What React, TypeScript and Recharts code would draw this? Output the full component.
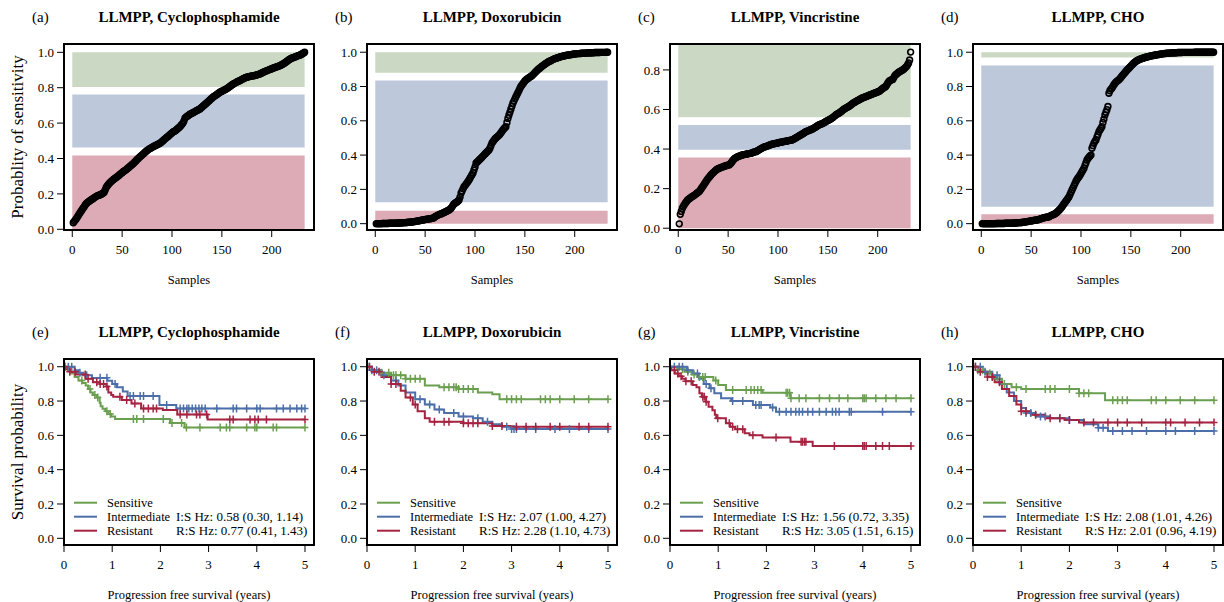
import React from 'react';
import { ComposedChart, Scatter, Line, XAxis, YAxis, ReferenceArea } from 'recharts';

const FONT = '"Liberation Serif", "Times New Roman", Times, serif';
const GREEN = '#6a9f50';
const BLUE = '#4c6fa9';
const RED = '#a52341';
const GREEN_BAND = '#cbd8c4';
const BLUE_BAND = '#bdc8db';
const RED_BAND = '#dcabb6';

// ---------- sorted probability of sensitivity, one value per sample ----------
const cycloProb = [
  0.037, 0.045, 0.052, 0.060, 0.068, 0.077, 0.086, 0.095, 0.104, 0.112,
  0.120, 0.128, 0.137, 0.145, 0.150, 0.155, 0.159, 0.163, 0.167, 0.170,
  0.174, 0.178, 0.182, 0.186, 0.189, 0.191, 0.193, 0.195, 0.198, 0.201,
  0.205, 0.210, 0.222, 0.236, 0.245, 0.252, 0.259, 0.265, 0.270, 0.275,
  0.280, 0.284, 0.288, 0.293, 0.297, 0.301, 0.306, 0.311, 0.316, 0.320,
  0.325, 0.329, 0.333, 0.337, 0.342, 0.347, 0.351, 0.356, 0.361, 0.366,
  0.370, 0.376, 0.382, 0.388, 0.394, 0.399, 0.405, 0.410, 0.415, 0.420,
  0.425, 0.430, 0.435, 0.440, 0.445, 0.449, 0.453, 0.457, 0.460, 0.463,
  0.466, 0.469, 0.472, 0.475, 0.478, 0.481, 0.484, 0.486, 0.491, 0.496,
  0.501, 0.506, 0.511, 0.516, 0.520, 0.525, 0.530, 0.535, 0.540, 0.545,
  0.550, 0.553, 0.556, 0.560, 0.565, 0.570, 0.575, 0.580, 0.587, 0.594,
  0.600, 0.612, 0.628, 0.634, 0.638, 0.642, 0.646, 0.650, 0.653, 0.656,
  0.659, 0.662, 0.665, 0.668, 0.671, 0.674, 0.677, 0.680, 0.685, 0.690,
  0.695, 0.700, 0.705, 0.710, 0.715, 0.720, 0.725, 0.730, 0.736, 0.741,
  0.746, 0.750, 0.754, 0.758, 0.762, 0.766, 0.770, 0.774, 0.777, 0.780,
  0.783, 0.786, 0.789, 0.792, 0.795, 0.799, 0.803, 0.807, 0.811, 0.815,
  0.820, 0.823, 0.826, 0.829, 0.832, 0.835, 0.838, 0.840, 0.843, 0.846,
  0.849, 0.852, 0.855, 0.858, 0.859, 0.861, 0.862, 0.864, 0.865, 0.866,
  0.867, 0.868, 0.869, 0.871, 0.872, 0.874, 0.876, 0.877, 0.880, 0.883,
  0.886, 0.889, 0.891, 0.894, 0.896, 0.898, 0.901, 0.903, 0.905, 0.907,
  0.910, 0.912, 0.914, 0.916, 0.918, 0.920, 0.922, 0.924, 0.927, 0.930,
  0.933, 0.937, 0.940, 0.944, 0.948, 0.952, 0.957, 0.961, 0.964, 0.967,
  0.969, 0.971, 0.973, 0.975, 0.978, 0.980, 0.982, 0.984, 0.986, 0.989,
  0.993, 0.996, 1.000,
];

const doxoProb = [
  0.000, 0.000, 0.000, 0.000, 0.000, 0.000, 0.001, 0.001, 0.001, 0.001,
  0.001, 0.001, 0.001, 0.002, 0.002, 0.002, 0.002, 0.002, 0.003, 0.003,
  0.003, 0.003, 0.004, 0.004, 0.004, 0.005, 0.005, 0.005, 0.006, 0.006,
  0.007, 0.007, 0.008, 0.008, 0.009, 0.010, 0.010, 0.011, 0.012, 0.013,
  0.014, 0.015, 0.016, 0.017, 0.018, 0.019, 0.021, 0.022, 0.023, 0.024,
  0.025, 0.026, 0.027, 0.028, 0.029, 0.030, 0.031, 0.032, 0.036, 0.040,
  0.044, 0.047, 0.050, 0.053, 0.055, 0.057, 0.060, 0.062, 0.065, 0.068,
  0.071, 0.074, 0.077, 0.080, 0.084, 0.090, 0.098, 0.107, 0.115, 0.119,
  0.123, 0.127, 0.132, 0.138, 0.155, 0.177, 0.190, 0.203, 0.215, 0.222,
  0.230, 0.238, 0.246, 0.255, 0.265, 0.276, 0.286, 0.296, 0.313, 0.330,
  0.352, 0.358, 0.364, 0.370, 0.376, 0.382, 0.388, 0.394, 0.400, 0.406,
  0.412, 0.418, 0.424, 0.430, 0.440, 0.455, 0.470, 0.478, 0.486, 0.494,
  0.500, 0.505, 0.510, 0.515, 0.522, 0.530, 0.538, 0.546, 0.554, 0.560,
  0.566, 0.590, 0.614, 0.632, 0.650, 0.668, 0.685, 0.702, 0.715, 0.728,
  0.741, 0.752, 0.764, 0.776, 0.788, 0.800, 0.808, 0.816, 0.824, 0.832,
  0.839, 0.843, 0.847, 0.851, 0.855, 0.859, 0.863, 0.868, 0.874, 0.880,
  0.886, 0.892, 0.898, 0.904, 0.907, 0.912, 0.917, 0.922, 0.926, 0.930,
  0.934, 0.938, 0.942, 0.946, 0.948, 0.951, 0.954, 0.957, 0.960, 0.962,
  0.964, 0.966, 0.968, 0.970, 0.972, 0.974, 0.976, 0.977, 0.978, 0.980,
  0.981, 0.982, 0.983, 0.984, 0.985, 0.986, 0.987, 0.988, 0.989, 0.990,
  0.991, 0.991, 0.992, 0.992, 0.993, 0.993, 0.994, 0.994, 0.995, 0.995,
  0.995, 0.996, 0.996, 0.996, 0.996, 0.997, 0.997, 0.997, 0.997, 0.998,
  0.998, 0.998, 0.998, 0.998, 0.998, 0.999, 0.999, 0.999, 0.999, 0.999,
  0.999, 1.000, 1.000,
];

const vincProb = [
  0.022, 0.070, 0.085, 0.100, 0.110, 0.118, 0.126, 0.133, 0.140, 0.145,
  0.149, 0.153, 0.156, 0.160, 0.163, 0.166, 0.170, 0.174, 0.178, 0.182,
  0.185, 0.192, 0.200, 0.207, 0.214, 0.222, 0.230, 0.237, 0.245, 0.252,
  0.258, 0.264, 0.270, 0.276, 0.280, 0.285, 0.290, 0.294, 0.298, 0.301,
  0.303, 0.305, 0.307, 0.309, 0.311, 0.313, 0.315, 0.316, 0.318, 0.319,
  0.320, 0.324, 0.330, 0.337, 0.344, 0.350, 0.354, 0.357, 0.360, 0.362,
  0.364, 0.366, 0.368, 0.370, 0.371, 0.372, 0.373, 0.374, 0.375, 0.376,
  0.377, 0.378, 0.379, 0.381, 0.383, 0.385, 0.386, 0.387, 0.390, 0.393,
  0.396, 0.399, 0.402, 0.405, 0.408, 0.410, 0.412, 0.413, 0.415, 0.417,
  0.419, 0.421, 0.423, 0.425, 0.426, 0.427, 0.428, 0.429, 0.430, 0.431,
  0.433, 0.434, 0.435, 0.436, 0.437, 0.438, 0.439, 0.440, 0.441, 0.442,
  0.443, 0.444, 0.445, 0.446, 0.448, 0.451, 0.454, 0.457, 0.460, 0.463,
  0.466, 0.469, 0.472, 0.475, 0.478, 0.481, 0.485, 0.488, 0.490, 0.492,
  0.494, 0.496, 0.498, 0.500, 0.503, 0.506, 0.509, 0.512, 0.515, 0.519,
  0.522, 0.524, 0.526, 0.528, 0.530, 0.533, 0.536, 0.539, 0.542, 0.545,
  0.547, 0.550, 0.553, 0.556, 0.560, 0.564, 0.568, 0.572, 0.576, 0.579,
  0.581, 0.585, 0.589, 0.593, 0.597, 0.601, 0.604, 0.607, 0.610, 0.613,
  0.615, 0.619, 0.623, 0.627, 0.631, 0.634, 0.637, 0.640, 0.643, 0.646,
  0.648, 0.651, 0.654, 0.657, 0.659, 0.661, 0.663, 0.665, 0.667, 0.669,
  0.671, 0.673, 0.675, 0.677, 0.679, 0.681, 0.683, 0.685, 0.687, 0.689,
  0.691, 0.694, 0.698, 0.702, 0.706, 0.710, 0.713, 0.716, 0.724, 0.733,
  0.740, 0.745, 0.748, 0.750, 0.752, 0.760, 0.770, 0.776, 0.780, 0.784,
  0.788, 0.791, 0.794, 0.797, 0.800, 0.804, 0.808, 0.813, 0.818, 0.826,
  0.835, 0.850, 0.890,
];

const choProb = [
  0.000, 0.000, 0.000, 0.000, 0.000, 0.000, 0.000, 0.000, 0.000, 0.000,
  0.000, 0.000, 0.000, 0.000, 0.001, 0.001, 0.001, 0.001, 0.001, 0.001,
  0.001, 0.001, 0.001, 0.002, 0.002, 0.002, 0.002, 0.002, 0.003, 0.003,
  0.003, 0.003, 0.004, 0.004, 0.004, 0.005, 0.005, 0.006, 0.006, 0.007,
  0.007, 0.008, 0.009, 0.010, 0.011, 0.012, 0.013, 0.014, 0.015, 0.016,
  0.017, 0.018, 0.019, 0.020, 0.021, 0.022, 0.023, 0.025, 0.027, 0.029,
  0.031, 0.033, 0.035, 0.036, 0.037, 0.038, 0.039, 0.041, 0.044, 0.048,
  0.050, 0.052, 0.055, 0.058, 0.062, 0.067, 0.072, 0.078, 0.084, 0.091,
  0.099, 0.108, 0.116, 0.124, 0.132, 0.140, 0.149, 0.157, 0.170, 0.183,
  0.196, 0.209, 0.222, 0.235, 0.248, 0.258, 0.266, 0.274, 0.283, 0.293,
  0.303, 0.313, 0.323, 0.340, 0.356, 0.372, 0.380, 0.387, 0.395, 0.400,
  0.440, 0.455, 0.470, 0.480, 0.488, 0.505, 0.520, 0.537, 0.546, 0.556,
  0.566, 0.590, 0.610, 0.634, 0.650, 0.665, 0.683, 0.761, 0.775, 0.785,
  0.790, 0.800, 0.810, 0.818, 0.825, 0.830, 0.835, 0.839, 0.846, 0.853,
  0.860, 0.867, 0.874, 0.880, 0.888, 0.895, 0.901, 0.907, 0.913, 0.919,
  0.925, 0.931, 0.937, 0.942, 0.946, 0.950, 0.953, 0.956, 0.959, 0.961,
  0.963, 0.965, 0.967, 0.969, 0.971, 0.972, 0.974, 0.975, 0.977, 0.978,
  0.979, 0.980, 0.982, 0.983, 0.984, 0.985, 0.986, 0.987, 0.988, 0.989,
  0.990, 0.991, 0.992, 0.993, 0.993, 0.994, 0.994, 0.995, 0.995, 0.996,
  0.996, 0.996, 0.997, 0.997, 0.997, 0.997, 0.998, 0.998, 0.998, 0.998,
  0.998, 0.999, 0.999, 0.999, 0.999, 0.999, 0.999, 0.999, 0.999, 0.999,
  0.999, 0.999, 0.999, 1.000, 1.000, 1.000, 1.000, 1.000, 1.000, 1.000,
  1.000, 1.000, 1.000, 1.000, 1.000, 1.000, 1.000, 1.000, 1.000, 1.000,
  1.000, 1.000, 1.000,
];

// class bands [low, high] for sensitive / intermediate / resistant
const cycloBands = { sensitive: [0.804, 1.0], intermediate: [0.462, 0.761], resistant: [0, 0.417] };
const doxoBands = { sensitive: [0.88, 1.0], intermediate: [0.125, 0.835], resistant: [0, 0.076] };
const vincBands = { sensitive: [0.561, 0.931], intermediate: [0.396, 0.522], resistant: [0, 0.357] };
const choBands = { sensitive: [0.969, 1.0], intermediate: [0.099, 0.922], resistant: [0, 0.055] };

const sampleTicks = [0, 50, 100, 150, 200];
const probTicksFull = [0, 0.2, 0.4, 0.6, 0.8, 1.0];
const probTicksShort = [0, 0.2, 0.4, 0.6, 0.8];
const yearTicks = [0, 1, 2, 3, 4, 5];
const survivalTicks = [0, 0.2, 0.4, 0.6, 0.8, 1.0];

// ---------- Kaplan-Meier steps [time, survival] and censoring times ----------
const cycloSensSteps = [[0, 1], [0.08, 0.98], [0.15, 0.96], [0.22, 0.94], [0.3, 0.92], [0.38, 0.905], [0.45, 0.89], [0.5, 0.87], [0.55, 0.85], [0.6, 0.835], [0.68, 0.82], [0.74, 0.79], [0.76, 0.77], [0.8, 0.755], [0.86, 0.74], [0.92, 0.725], [0.98, 0.71], [1.06, 0.695], [2.2, 0.672], [2.5, 0.646]];
const cycloSensCens = [0.37, 0.54, 0.64, 0.7, 0.89, 0.96, 1.44, 1.51, 1.65, 2.06, 2.24, 2.44, 2.54, 2.82, 3.24, 3.37, 3.44, 3.79, 3.96, 4.0, 4.34, 4.41, 5.0];
const cycloIntSteps = [[0, 1], [0.22, 0.98], [0.3, 0.965], [0.4, 0.95], [0.58, 0.935], [0.9, 0.918], [1.0, 0.9], [1.1, 0.88], [1.22, 0.855], [1.32, 0.83], [1.98, 0.777], [2.33, 0.757]];
const cycloIntCens = [0.09, 0.16, 0.33, 0.47, 0.75, 0.89, 1.06, 1.37, 1.44, 1.58, 1.65, 1.85, 2.13, 2.41, 2.48, 2.55, 2.59, 2.66, 2.73, 2.8, 2.86, 2.93, 3.17, 3.51, 3.58, 3.79, 4.0, 4.07, 4.41, 4.55, 4.69, 4.83, 4.93, 5.0];
const cycloResSteps = [[0, 1], [0.03, 0.985], [0.12, 0.97], [0.25, 0.955], [0.45, 0.93], [0.6, 0.91], [0.75, 0.9], [0.88, 0.885], [0.92, 0.85], [0.98, 0.835], [1.02, 0.825], [1.2, 0.806], [1.4, 0.786], [1.6, 0.757], [2.05, 0.748], [2.35, 0.722], [2.98, 0.693]];
const cycloResCens = [0.02, 0.12, 0.23, 0.44, 0.5, 0.68, 0.75, 0.82, 0.89, 1.16, 1.3, 1.47, 1.65, 1.75, 1.85, 1.92, 2.41, 2.55, 2.75, 2.82, 2.96, 3.44, 3.51, 3.86, 3.96, 4.03, 4.2, 5.0];

const doxoSensSteps = [[0, 1], [0.1, 0.98], [0.3, 0.965], [0.5, 0.95], [0.8, 0.93], [1.2, 0.89], [1.5, 0.88], [1.9, 0.87], [2.3, 0.85], [2.6, 0.84], [2.75, 0.81]];
const doxoSensCens = [0.3, 0.45, 0.55, 0.6, 0.7, 0.8, 0.9, 1.0, 1.1, 1.6, 1.7, 1.8, 1.85, 1.9, 2.0, 2.1, 2.2, 2.9, 3.0, 3.1, 3.2, 3.6, 3.7, 3.8, 4.0, 4.3, 4.6, 5.0];
const doxoIntSteps = [[0, 1], [0.1, 0.98], [0.3, 0.95], [0.5, 0.92], [0.65, 0.89], [0.8, 0.85], [1.0, 0.81], [1.2, 0.78], [1.4, 0.75], [1.6, 0.73], [1.9, 0.71], [2.2, 0.7], [2.4, 0.68], [2.6, 0.665], [2.8, 0.65], [3.0, 0.637]];
const doxoIntCens = [0.05, 0.1, 0.2, 0.35, 0.6, 1.1, 1.3, 1.5, 1.8, 2.0, 2.3, 2.5, 2.9, 3.0, 3.05, 3.1, 3.3, 3.5, 3.9, 4.2, 4.6, 5.0];
const doxoResSteps = [[0, 1], [0.1, 0.97], [0.3, 0.94], [0.5, 0.9], [0.7, 0.86], [0.8, 0.82], [0.95, 0.78], [1.05, 0.74], [1.2, 0.7], [1.3, 0.68], [2.0, 0.67], [2.6, 0.655], [3.0, 0.65]];
const doxoResCens = [0.05, 0.15, 0.25, 0.5, 0.6, 0.9, 1.0, 1.4, 1.6, 1.7, 2.0, 2.1, 2.2, 2.3, 2.6, 2.8, 3.1, 3.3, 3.5, 3.8, 4.0, 4.4, 4.6, 5.0];

const vincSensSteps = [[0, 1], [0.15, 0.985], [0.3, 0.97], [0.45, 0.955], [0.6, 0.94], [0.9, 0.92], [1.0, 0.893], [1.16, 0.864], [1.92, 0.849], [2.5, 0.816]];
const vincSensCens = [0.16, 0.26, 0.37, 0.5, 0.61, 0.68, 0.73, 0.95, 1.3, 1.58, 1.68, 1.75, 1.82, 1.89, 2.41, 2.44, 2.48, 2.51, 2.68, 2.82, 3.1, 3.31, 3.51, 3.69, 4.0, 4.03, 4.07, 4.27, 4.48, 4.69, 5.0];
const vincIntSteps = [[0, 1], [0.35, 0.98], [0.48, 0.96], [0.6, 0.93], [0.7, 0.9], [0.82, 0.874], [0.92, 0.845], [1.06, 0.816], [1.27, 0.8], [1.72, 0.777], [2.08, 0.763], [2.2, 0.738]];
const vincIntCens = [0.09, 0.19, 0.26, 0.37, 0.57, 0.75, 0.85, 1.3, 1.51, 1.78, 1.85, 1.89, 2.13, 2.27, 2.41, 2.51, 2.61, 2.68, 2.75, 2.86, 2.96, 3.1, 3.24, 3.37, 3.44, 3.51, 3.72, 3.76, 4.41, 5.0];
const vincResSteps = [[0, 1], [0.03, 0.98], [0.1, 0.96], [0.18, 0.945], [0.25, 0.93], [0.32, 0.915], [0.47, 0.893], [0.55, 0.88], [0.61, 0.845], [0.66, 0.825], [0.75, 0.796], [0.8, 0.767], [0.88, 0.747], [0.93, 0.72], [0.96, 0.7], [1.16, 0.67], [1.25, 0.65], [1.35, 0.635], [1.55, 0.612], [1.65, 0.6], [1.92, 0.588], [2.5, 0.563], [2.96, 0.538]];
const vincResCens = [0.09, 0.16, 0.23, 0.33, 0.44, 0.68, 0.71, 0.75, 0.99, 1.23, 1.3, 1.4, 1.51, 1.72, 2.2, 2.72, 2.75, 2.79, 2.82, 3.41, 4.0, 4.03, 4.07, 4.27, 4.41, 4.55, 5.0];

const choSensSteps = [[0, 1], [0.1, 0.98], [0.25, 0.96], [0.4, 0.93], [0.6, 0.9], [0.8, 0.88], [1.0, 0.87], [2.2, 0.845], [2.74, 0.805]];
const choSensCens = [0.1, 0.2, 0.35, 0.5, 0.65, 0.9, 1.1, 1.5, 1.6, 1.7, 2.0, 2.2, 2.3, 2.4, 2.9, 3.0, 3.1, 3.2, 3.7, 3.8, 4.0, 4.3, 4.6, 5.0];
const choIntSteps = [[0, 1], [0.2, 0.97], [0.4, 0.95], [0.55, 0.9], [0.7, 0.85], [0.85, 0.8], [1.0, 0.76], [1.1, 0.73], [1.3, 0.71], [1.6, 0.7], [2.0, 0.69], [2.3, 0.665], [2.6, 0.645], [2.8, 0.625]];
const choIntCens = [0.05, 0.15, 0.25, 0.5, 1.1, 1.2, 1.4, 1.5, 1.8, 2.0, 2.6, 2.7, 2.9, 3.1, 3.3, 3.6, 4.0, 4.2, 4.6, 5.0];
const choResSteps = [[0, 1], [0.1, 0.97], [0.3, 0.94], [0.45, 0.91], [0.6, 0.87], [0.75, 0.83], [0.9, 0.78], [1.0, 0.74], [1.2, 0.72], [1.5, 0.7], [1.9, 0.69], [2.2, 0.675]];
const choResCens = [0.05, 0.15, 0.3, 0.4, 0.55, 1.0, 1.1, 1.3, 1.6, 1.8, 2.0, 2.3, 2.5, 2.8, 3.0, 3.2, 3.5, 4.0, 4.1, 4.4, 4.7, 5.0];

// hazard ratio annotations
const cycloHz = ['I:S Hz: 0.58 (0.30, 1.14)', 'R:S Hz: 0.77 (0.41, 1.43)'];
const doxoHz = ['I:S Hz: 2.07 (1.00, 4.27)', 'R:S Hz: 2.28 (1.10, 4.73)'];
const vincHz = ['I:S Hz: 1.56 (0.72, 3.35)', 'R:S Hz: 3.05 (1.51, 6.15)'];
const choHz = ['I:S Hz: 2.08 (1.01, 4.26)', 'R:S Hz: 2.01 (0.96, 4.19)'];

const groupNames = ['Sensitive', 'Intermediate', 'Resistant'];

// ---------- layout ----------
const BOX_W = 250;
const BOX_H = 186;
const COL_LEFT = [64, 367, 670, 973];
const TOP_BOX = 44;
const BOTTOM_BOX = 359;
const M_LEFT = 60;
const M_RIGHT = 10;
const M_TOP = 10;
const M_BOTTOM = 40;

const fmt1 = (v: number) => v.toFixed(1);
const fmt0 = (v: number) => String(v);

// axis tick label renderers, plain black serif text
const xTick = (format: (v: number) => string) => (props: any) => {
  const { x, y, payload } = props;
  return (
    <text x={x} y={y} dy="0.71em" textAnchor="middle" fontSize={13} fill="#000" fontFamily={FONT}>
      {format(payload.value)}
    </text>
  );
};
const yTick = (format: (v: number) => string) => (props: any) => {
  const { x, y, payload } = props;
  return (
    <text x={x} y={y} dy="0.36em" textAnchor="end" fontSize={13} fill="#000" fontFamily={FONT}>
      {format(payload.value)}
    </text>
  );
};

const probPanels = [
  { letter: '(a)', title: 'LLMPP, Cyclophosphamide', values: cycloProb, bands: cycloBands, yDomain: [-0.004, 1.047], yTicks: probTicksFull },
  { letter: '(b)', title: 'LLMPP, Doxorubicin', values: doxoProb, bands: doxoBands, yDomain: [-0.037, 1.048], yTicks: probTicksFull },
  { letter: '(c)', title: 'LLMPP, Vincristine', values: vincProb, bands: vincBands, yDomain: [-0.009, 0.931], yTicks: probTicksShort },
  { letter: '(d)', title: 'LLMPP, CHO', values: choProb, bands: choBands, yDomain: [-0.037, 1.048], yTicks: probTicksFull },
];

const survPanels = [
  { letter: '(e)', title: 'LLMPP, Cyclophosphamide', groups: [[cycloSensSteps, cycloSensCens], [cycloIntSteps, cycloIntCens], [cycloResSteps, cycloResCens]], hz: cycloHz },
  { letter: '(f)', title: 'LLMPP, Doxorubicin', groups: [[doxoSensSteps, doxoSensCens], [doxoIntSteps, doxoIntCens], [doxoResSteps, doxoResCens]], hz: doxoHz },
  { letter: '(g)', title: 'LLMPP, Vincristine', groups: [[vincSensSteps, vincSensCens], [vincIntSteps, vincIntCens], [vincResSteps, vincResCens]], hz: vincHz },
  { letter: '(h)', title: 'LLMPP, CHO', groups: [[choSensSteps, choSensCens], [choIntSteps, choIntCens], [choResSteps, choResCens]], hz: choHz },
];

const groupColors = [GREEN, BLUE, RED];

const survivalAt = (steps: number[][], t: number) => {
  let v = 1;
  for (const [st, sv] of steps) {
    if (st <= t) v = sv;
    else break;
  }
  return v;
};

const Ring = (props: any) => {
  const { cx, cy } = props;
  if (cx == null || cy == null) return null;
  return <circle cx={cx} cy={cy} r={2.9} fill="none" stroke="#000" strokeWidth={1.6} />;
};

const makePlus = (color: string) => (props: any) => {
  const { cx, cy } = props;
  if (cx == null || cy == null) return null;
  return (
    <path
      d={`M${cx - 3.5},${cy}H${cx + 3.5}M${cx},${cy - 4}V${cy + 4}`}
      stroke={color}
      strokeWidth={1.5}
      fill="none"
    />
  );
};

function ProbChart({ left, panel }: { left: number; panel: any }) {
  const pts = panel.values.map((v: number, i: number) => ({ x: i + 1, y: v }));
  const n = panel.values.length;
  const [y0, y1] = panel.yDomain;
  const xDomain = [-8.3, 242.4];
  return (
    <div style={{ position: 'absolute', left: left - M_LEFT, top: TOP_BOX - M_TOP }}>
      <ComposedChart
        width={BOX_W + M_LEFT + M_RIGHT}
        height={BOX_H + M_TOP + M_BOTTOM}
        margin={{ top: M_TOP, right: M_RIGHT, bottom: 0, left: 0 }}
      >
        <XAxis
          type="number"
          dataKey="x"
          domain={xDomain}
          ticks={sampleTicks}
          allowDataOverflow
          height={M_BOTTOM}
          axisLine={false}
          stroke="#000"
          tickLine={{ stroke: '#000', strokeWidth: 1 }}
          tickSize={7}
          tickMargin={8}
          tick={xTick(fmt0)}
          interval={0}
        />
        <YAxis
          type="number"
          dataKey="y"
          domain={panel.yDomain}
          ticks={panel.yTicks}
          allowDataOverflow
          width={M_LEFT}
          axisLine={false}
          stroke="#000"
          tickLine={{ stroke: '#000', strokeWidth: 1 }}
          tickSize={7}
          tickMargin={3}
          tick={yTick(fmt1)}
          interval={0}
        />
        <ReferenceArea x1={0} x2={n} y1={panel.bands.resistant[0]} y2={panel.bands.resistant[1]} fill={RED_BAND} fillOpacity={1} stroke="none" ifOverflow="visible" />
        <ReferenceArea x1={0} x2={n} y1={panel.bands.intermediate[0]} y2={panel.bands.intermediate[1]} fill={BLUE_BAND} fillOpacity={1} stroke="none" ifOverflow="visible" />
        <ReferenceArea x1={0} x2={n} y1={panel.bands.sensitive[0]} y2={panel.bands.sensitive[1]} fill={GREEN_BAND} fillOpacity={1} stroke="none" ifOverflow="visible" />
        <Scatter data={pts} shape={Ring} isAnimationActive={false} />
        <ReferenceArea
          x1={xDomain[0]}
          x2={xDomain[1]}
          y1={y0}
          y2={y1}
          fill="none"
          fillOpacity={0}
          stroke="#000"
          strokeWidth={2}
          ifOverflow="visible"
          zIndex={1500}
        />
      </ComposedChart>
    </div>
  );
}

function SurvChart({ left, panel }: { left: number; panel: any }) {
  const xDomain = [0, 5.187];
  const yDomain = [-0.039, 1.045];
  return (
    <div style={{ position: 'absolute', left: left - M_LEFT, top: BOTTOM_BOX - M_TOP }}>
      <ComposedChart
        width={BOX_W + M_LEFT + M_RIGHT}
        height={BOX_H + M_TOP + M_BOTTOM}
        margin={{ top: M_TOP, right: M_RIGHT, bottom: 0, left: 0 }}
      >
        <XAxis
          type="number"
          dataKey="x"
          domain={xDomain}
          ticks={yearTicks}
          allowDataOverflow
          height={M_BOTTOM}
          axisLine={false}
          stroke="#000"
          tickLine={{ stroke: '#000', strokeWidth: 1 }}
          tickSize={7}
          tickMargin={8}
          tick={xTick(fmt0)}
          interval={0}
        />
        <YAxis
          type="number"
          dataKey="y"
          domain={yDomain}
          ticks={survivalTicks}
          allowDataOverflow
          width={M_LEFT}
          axisLine={false}
          stroke="#000"
          tickLine={{ stroke: '#000', strokeWidth: 1 }}
          tickSize={7}
          tickMargin={3}
          tick={yTick(fmt1)}
          interval={0}
        />
        {panel.groups.map(([steps, cens]: [number[][], number[]], gi: number) => {
          const end = Math.max(...cens);
          const last = steps[steps.length - 1][1];
          const lineData = [...steps.map(([x, y]) => ({ x, y })), { x: end, y: last }];
          return (
            <Line
              key={`l${gi}`}
              data={lineData}
              dataKey="y"
              type="stepAfter"
              stroke={groupColors[gi]}
              strokeWidth={2}
              dot={false}
              activeDot={false}
              isAnimationActive={false}
            />
          );
        })}
        {panel.groups.map(([steps, cens]: [number[][], number[]], gi: number) => (
          <Scatter
            key={`c${gi}`}
            data={cens.map((t) => ({ x: t, y: survivalAt(steps, t) }))}
            shape={makePlus(groupColors[gi])}
            isAnimationActive={false}
          />
        ))}
        <ReferenceArea
          x1={xDomain[0]}
          x2={xDomain[1]}
          y1={yDomain[0]}
          y2={yDomain[1]}
          fill="none"
          fillOpacity={0}
          stroke="#000"
          strokeWidth={2}
          ifOverflow="visible"
          zIndex={1500}
        />
      </ComposedChart>
    </div>
  );
}

function Labels() {
  return (
    <svg
      width={1224}
      height={602}
      style={{ position: 'absolute', left: 0, top: 0, pointerEvents: 'none' }}
      fontFamily={FONT}
    >
      {probPanels.map((p, i) => (
        <g key={`pt${i}`}>
          <text x={COL_LEFT[i] - 32} y={17} fontSize={15} dominantBaseline="central">{p.letter}</text>
          <text x={COL_LEFT[i] + BOX_W / 2} y={17} fontSize={15} fontWeight="bold" textAnchor="middle" dominantBaseline="central">{p.title}</text>
          <text x={COL_LEFT[i] + BOX_W / 2} y={280} fontSize={12.5} textAnchor="middle" dominantBaseline="central">Samples</text>
        </g>
      ))}
      {survPanels.map((p, i) => {
        const L = COL_LEFT[i];
        const B = BOTTOM_BOX + BOX_H;
        const rows = [B - 42.3, B - 28.3, B - 14.3];
        return (
          <g key={`st${i}`}>
            <text x={L - 32} y={331.7} fontSize={15} dominantBaseline="central">{p.letter}</text>
            <text x={L + BOX_W / 2} y={331.7} fontSize={15} fontWeight="bold" textAnchor="middle" dominantBaseline="central">{p.title}</text>
            <text x={L + BOX_W / 2} y={595} fontSize={12.5} textAnchor="middle" dominantBaseline="central">Progression free survival (years)</text>
            {groupNames.map((g, gi) => (
              <g key={g}>
                <line x1={L + 10} x2={L + 33} y1={rows[gi]} y2={rows[gi]} stroke={groupColors[gi]} strokeWidth={2} />
                <text x={L + 43} y={rows[gi]} fontSize={12.5} dominantBaseline="central">{g}</text>
              </g>
            ))}
            <text x={L + 112} y={rows[1]} fontSize={13} dominantBaseline="central">{p.hz[0]}</text>
            <text x={L + 112} y={rows[2]} fontSize={13} dominantBaseline="central">{p.hz[1]}</text>
          </g>
        );
      })}
      <text x={17.5} y={TOP_BOX + BOX_H / 2} fontSize={17} textAnchor="middle" dominantBaseline="central" transform={`rotate(-90 17.5 ${TOP_BOX + BOX_H / 2})`}>Probablity of sensitivity</text>
      <text x={17.5} y={BOTTOM_BOX + BOX_H / 2} fontSize={17} textAnchor="middle" dominantBaseline="central" transform={`rotate(-90 17.5 ${BOTTOM_BOX + BOX_H / 2})`}>Survival probability</text>
    </svg>
  );
}

export default function App() {
  return (
    <div style={{ position: 'absolute', left: 0, top: 0, width: 1224, height: 602, background: '#fff', fontFamily: FONT }}>
      {probPanels.map((p, i) => (
        <ProbChart key={p.letter} left={COL_LEFT[i]} panel={p} />
      ))}
      {survPanels.map((p, i) => (
        <SurvChart key={p.letter} left={COL_LEFT[i]} panel={p} />
      ))}
      <Labels />
    </div>
  );
}
